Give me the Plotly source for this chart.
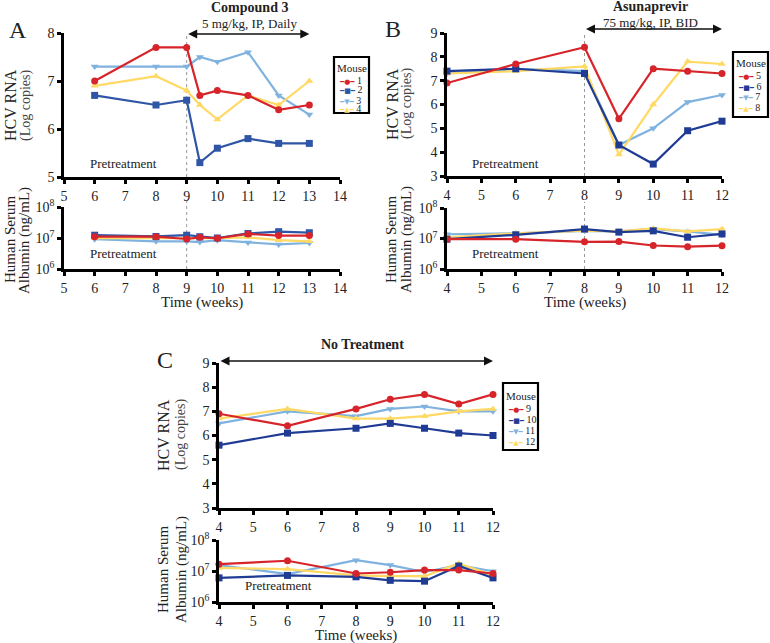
import plotly.graph_objects as go

W, H = 770, 643
SERIF = "Liberation Serif"

def px(x):
    return x / W

def py(y):
    return 1 - y / H

RED = "#D7242B"
BLUE_A = "#2E55A6"
BLUE = "#1F3B94"
LBLUE = "#7FB2DF"
YELLOW = "#FFD964"

# ---------------- Panel A : Compound 3 ----------------
weeks_A = [6, 8, 9, 9.43, 10, 11, 12, 13]
hcv_m1 = [7.0, 7.7, 7.7, 6.7, 6.8, 6.7, 6.4, 6.5]
hcv_m2 = [6.7, 6.5, 6.6, 5.3, 5.6, 5.8, 5.7, 5.7]
hcv_m3 = [7.3, 7.3, 7.3, 7.5, 7.4, 7.6, 6.7, 6.3]
hcv_m4 = [6.9, 7.1, 6.8, 6.5, 6.2, 6.7, 6.5, 7.0]
alb_m1 = [1.1e7, 1.1e7, 9.3e6, 1.05e7, 9.8e6, 1.35e7, 1.2e7, 1.2e7]
alb_m2 = [1.23e7, 1.12e7, 1.23e7, 1.1e7, 1.0e7, 1.4e7, 1.6e7, 1.48e7]
alb_m3 = [9.1e6, 7.8e6, 7.8e6, 7.4e6, 8.5e6, 7.2e6, 6.2e6, 6.9e6]
alb_m4 = [9.8e6, 9.8e6, 9.8e6, 9.8e6, 9.8e6, 1.05e7, 8.5e6, 7.8e6]

# ---------------- Panel B : Asunaprevir ----------------
weeks_B = [4, 6, 8, 9, 10, 11, 12]
hcv_m5 = [6.9, 7.7, 8.4, 5.4, 7.5, 7.4, 7.3]
hcv_m6 = [7.4, 7.5, 7.3, 4.3, 3.5, 4.9, 5.3]
hcv_m7 = [7.3, 7.5, 7.4, 4.3, 5.0, 6.1, 6.4]
hcv_m8 = [7.3, 7.4, 7.6, 3.9, 6.0, 7.8, 7.7]
alb_m5 = [9.5e6, 9.5e6, 7.8e6, 7.9e6, 5.9e6, 5.4e6, 5.8e6]
alb_m6 = [9.5e6, 1.32e7, 2.04e7, 1.62e7, 1.78e7, 1.1e7, 1.41e7]
alb_m7 = [1.38e7, 1.48e7, 1.78e7, 1.7e7, 2.04e7, 1.7e7, 1.32e7]
alb_m8 = [1.1e7, 1.48e7, 1.8e7, 1.7e7, 2.14e7, 1.7e7, 2.04e7]

# ---------------- Panel C : No Treatment ----------------
weeks_C = [4, 6, 8, 9, 10, 11, 12]
hcv_m9 = [6.9, 6.4, 7.1, 7.5, 7.7, 7.3, 7.7]
hcv_m10 = [5.6, 6.1, 6.3, 6.5, 6.3, 6.1, 6.0]
hcv_m11 = [6.5, 7.0, 6.8, 7.1, 7.2, 7.0, 7.0]
hcv_m12 = [6.7, 7.1, 6.7, 6.7, 6.8, 7.0, 7.1]
alb_m9 = [1.66e7, 2.14e7, 8.3e6, 9.1e6, 1.07e7, 1.07e7, 8.3e6]
alb_m10 = [6.0e6, 7.2e6, 6.5e6, 5.0e6, 4.7e6, 1.45e7, 6.0e6]
alb_m11 = [1.55e7, 7.9e6, 2.24e7, 1.55e7, 9.3e6, 1.55e7, 9.8e6]
alb_m12 = [1.26e7, 1.15e7, 7.2e6, 6.8e6, 6.8e6, 1.74e7, 7.2e6]

mice_A = ["1", "2", "3", "4"]
mice_B = ["5", "6", "7", "8"]
mice_C = ["9", "10", "11", "12"]

SYMBOLS = ["circle", "square", "triangle-down", "triangle-up"]
SYM_GLYPH = ["●", "■", "▼", "▲"]

fig = go.Figure()


def add_series(xs, ys, color, symbol, xa, ya, name):
    fig.add_trace(go.Scatter(
        x=xs, y=ys, mode="lines+markers", name=name,
        line=dict(color=color, width=2.2),
        marker=dict(symbol=symbol, size=7, color=color),
        xaxis=xa, yaxis=ya, showlegend=False, cliponaxis=False))


panels = [
    (weeks_A, [hcv_m1, hcv_m2, hcv_m3, hcv_m4], [alb_m1, alb_m2, alb_m3, alb_m4],
     [RED, BLUE_A, LBLUE, YELLOW], mice_A, ("x", "y"), ("x2", "y2")),
    (weeks_B, [hcv_m5, hcv_m6, hcv_m7, hcv_m8], [alb_m5, alb_m6, alb_m7, alb_m8],
     [RED, BLUE, LBLUE, YELLOW], mice_B, ("x3", "y3"), ("x4", "y4")),
    (weeks_C, [hcv_m9, hcv_m10, hcv_m11, hcv_m12], [alb_m9, alb_m10, alb_m11, alb_m12],
     [RED, BLUE, LBLUE, YELLOW], mice_C, ("x5", "y5"), ("x6", "y6")),
]
for weeks, hcvs, albs, cols, names, top, bot in panels:
    for i in [2, 3, 1, 0]:
        add_series(weeks, hcvs[i], cols[i], SYMBOLS[i], top[0], top[1], "Mouse " + names[i])
        add_series(weeks, albs[i], cols[i], SYMBOLS[i], bot[0], bot[1], "Mouse " + names[i])

tickfont = dict(family=SERIF, size=14, color="#222")
common = dict(showline=True, linewidth=2.5, linecolor="black", ticks="outside",
              ticklen=4, tickwidth=2.5, tickcolor="black", showgrid=False,
              zeroline=False, tickfont=tickfont, fixedrange=True, automargin=False)


def xax(x0, x1, rng, anchor):
    return dict(domain=[px(x0), px(x1)], range=rng, anchor=anchor, dtick=1, tick0=0, **common)


def yax(y0, y1, rng, anchor, log=False):
    d = dict(domain=[py(y1), py(y0)], range=rng, anchor=anchor, **common)
    if log:
        d.update(type="log", tickvals=[1e6, 1e7, 1e8],
                 ticktext=["10<sup>6</sup>", "10<sup>7</sup>", "10<sup>8</sup>"])
    else:
        d.update(dtick=1)
    return d


fig.update_layout(
    template="none",
    width=W, height=H, autosize=False,
    margin=dict(l=0, r=0, t=0, b=0, pad=0),
    paper_bgcolor="white", plot_bgcolor="white",
    font=dict(family=SERIF, color="#222"),
    showlegend=False,
    xaxis=xax(64, 340, [5, 14], "y"),
    yaxis=yax(33, 177, [5, 8], "x"),
    xaxis2=xax(64, 340, [5, 14], "y2"),
    yaxis2=yax(207, 269, [6, 8], "x2", log=True),
    xaxis3=xax(447, 722, [4, 12], "y3"),
    yaxis3=yax(33, 176, [3, 9], "x3"),
    xaxis4=xax(447, 722, [4, 12], "y4"),
    yaxis4=yax(208, 269, [6, 8], "x4", log=True),
    xaxis5=xax(219, 493, [4, 12], "y5"),
    yaxis5=yax(363, 508, [3, 9], "x5"),
    xaxis6=xax(219, 493, [4, 12], "y6"),
    yaxis6=yax(540, 602, [6, 8], "x6", log=True),
)

shapes = []
# treatment start dotted lines
for xr, yr, x, y0, y1 in [("x", "y domain", 9, 0, 1.0), ("x2", "y2 domain", 9, 0, 1.1),
                          ("x3", "y3 domain", 8, 0, 1.0), ("x4", "y4 domain", 8, 0, 1.1)]:
    shapes.append(dict(type="line", xref=xr, yref=yr, x0=x, x1=x, y0=y0, y1=y1,
                       line=dict(color="#999", width=1, dash="dot"), layer="below"))

annotations = []


def txt(x, y, text, size=13, bold=False, angle=0, xanchor="center", color="#222"):
    if bold:
        text = "<b>" + text + "</b>"
    annotations.append(dict(xref="paper", yref="paper", x=px(x), y=py(y), text=text,
                            showarrow=False, xanchor=xanchor, yanchor="middle",
                            textangle=angle, font=dict(family=SERIF, size=size, color=color)))


# panel letters
txt(18, 30, "A", size=24)
txt(393, 29, "B", size=24)
txt(165, 360, "C", size=24)

# treatment headings
txt(249, 8, "Compound 3", size=14, bold=True)
txt(249, 23, "5 mg/kg, IP, Daily", size=13)
txt(650, 7, "Asunaprevir", size=14, bold=True)
txt(650, 22, "75 mg/kg, IP, BID", size=13)
txt(362, 344, "No Treatment", size=14, bold=True)

# double arrows
for xr, x0, x1, yy in [("x", 9, 13, 34), ("x3", 8, 12, 29), ("x5", 4, 12, 361)]:
    annotations.append(dict(xref=xr, axref=xr, yref="paper", ayref="pixel",
                            x=x1, ax=x0, y=py(yy), ay=0, text="", showarrow=True,
                            arrowhead=2, startarrowhead=2, arrowside="end+start",
                            arrowsize=1.2, startarrowsize=1.2, arrowwidth=1.5,
                            arrowcolor="#111", standoff=0, startstandoff=0))

# pretreatment labels
for x, y in [(123, 163), (123, 254), (505, 163), (505, 254), (278, 585)]:
    txt(x, y, "Pretreatment", size=13)

# y-axis titles
for x1, x2, y in [(10, 26, 105), (392, 407, 104), (163, 181, 435)]:
    txt(x1, y, "HCV RNA", size=16, angle=-90)
    txt(x2, y, "(Log copies)", size=14, angle=-90, color="#444")
for x1, x2, y in [(10, 25, 240), (391, 407, 240), (163, 181, 570)]:
    txt(x1, y, "Human Serum", size=15, angle=-90)
    txt(x2, y, "Albumin (ng/mL)", size=15, angle=-90)

# x-axis titles
txt(202, 302, "Time (weeks)", size=15)
txt(585, 302, "Time (weeks)", size=15)
txt(356, 635, "Time (weeks)", size=15)

# compact legends (boxes + rows)
legends = [
    (334, 369, 57, 113, 68, [80, 90, 100, 109], mice_A, [RED, BLUE_A, LBLUE, YELLOW]),
    (733, 768, 52, 117, 63, [75, 86, 97, 108], mice_B, [RED, BLUE, LBLUE, YELLOW]),
    (503, 538, 383, 450, 396, [408, 419, 430, 441], mice_C, [RED, BLUE, LBLUE, YELLOW]),
]
for lx0, lx1, ly0, ly1, ty, rows, names, cols in legends:
    shapes.append(dict(type="rect", xref="paper", yref="paper", x0=px(lx0), x1=px(lx1),
                       y0=py(ly1), y1=py(ly0), line=dict(color="black", width=2.2),
                       fillcolor="white", layer="above"))
    txt((lx0 + lx1) / 2, ty, "Mouse", size=11)
    for i, (ry, nm, c) in enumerate(zip(rows, names, cols)):
        sw = ('<span style="font-family:DejaVu Sans;font-size:7px;color:%s">━%s━</span>'
              % (c, SYM_GLYPH[i]))
        txt(lx0 + 3, ry, sw + " " + nm, size=10, xanchor="left")

fig.update_layout(shapes=shapes, annotations=annotations)
# remove the default 8px body margin so the figure sits at the window's top-left corner
fig.write_html("out.html", config={"displayModeBar": False},
               post_script="document.body.style.margin='0px';")
